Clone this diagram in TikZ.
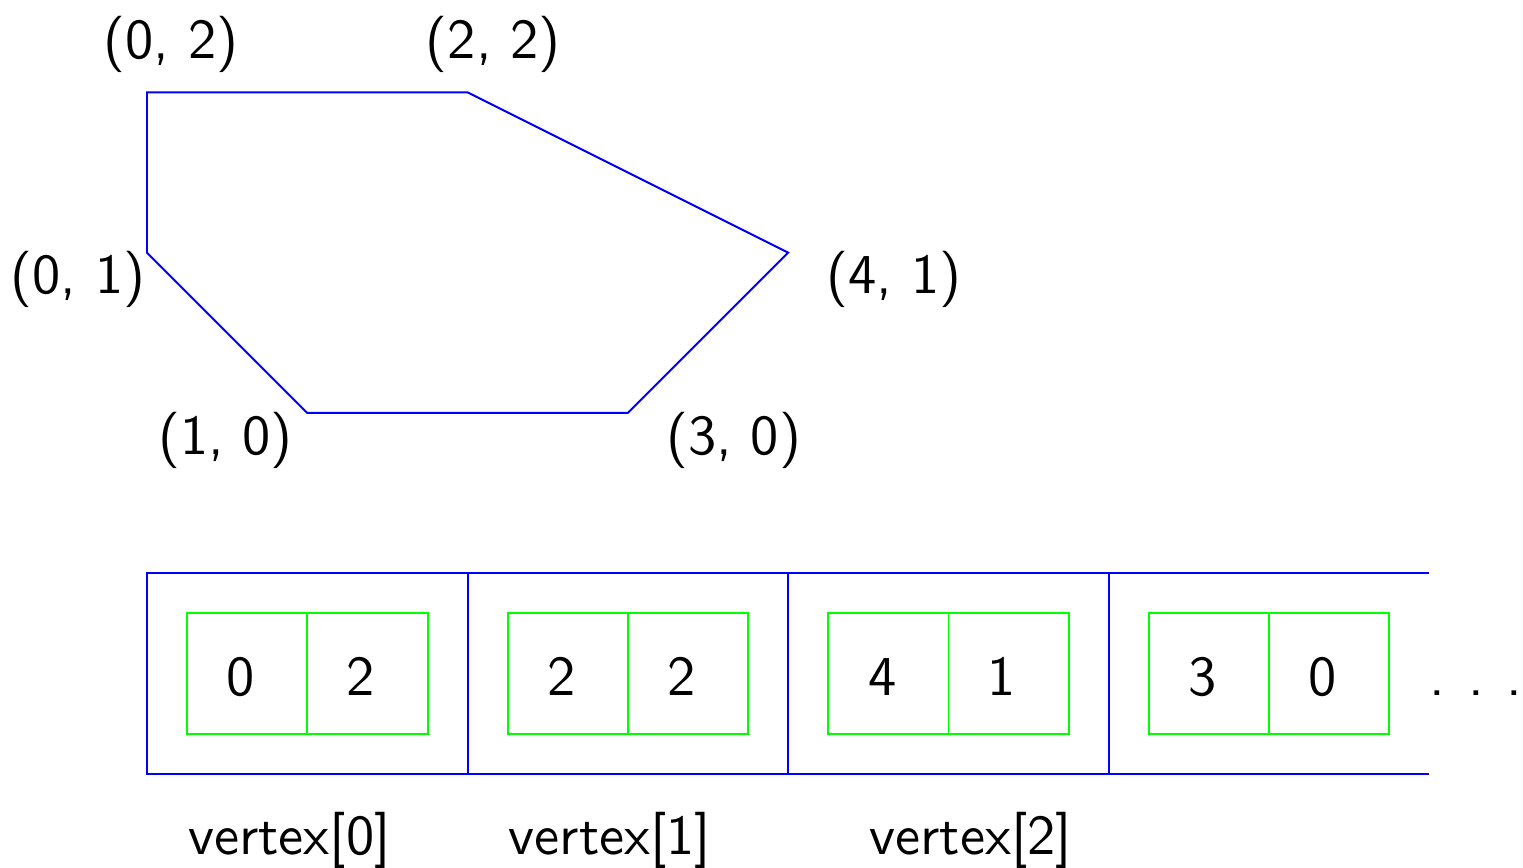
\documentclass[tikz,border=0pt]{standalone}
\begin{document}
\begin{tikzpicture}[font=\sffamily,
  lbl/.style={inner sep=0pt, anchor=base},
  poly/.style={draw=blue, line width=0.35pt},
  cellgreen/.style={draw=green, line width=0.35pt}]
\useasboundingbox (-0.917,-2.838) rectangle (8.584,2.576);
% polygon
\coordinate (A) at (0,2);
\coordinate (B) at (2,2);
\coordinate (C) at (4,1);
\coordinate (D) at (3,0);
\coordinate (E) at (1,0);
\coordinate (F) at (0,1);
\draw[poly] (A) -- (B) -- (C) -- (D) -- (E) -- (F) -- cycle;
\node[lbl] (lA) at (0.15,2.21) {(0, 2)};
\node[lbl] (lB) at (2.16,2.21) {(2, 2)};
\node[lbl] (lF) at (-0.43,0.745) {(0, 1)};
\node[lbl] (lC) at (4.66,0.745) {(4, 1)};
\node[lbl] (lE) at (0.49,-0.26) {(1, 0)};
\node[lbl] (lD) at (3.66,-0.26) {(3, 0)};
% array
\draw[poly] (8,-1) -- (0,-1) -- (0,-2.25) -- (8,-2.25);
\foreach \x in {2,4,6} \draw[poly] (\x,-1) -- (\x,-2.25);
\foreach \i/\a/\b in {0/0/2, 1/2/2, 2/4/1, 3/3/0} {
  \draw[cellgreen] (2*\i+0.25,-1.25) rectangle (2*\i+1.75,-2);
  \draw[cellgreen] (2*\i+1,-1.25) -- (2*\i+1,-2);
  \node[lbl] (a\i) at (2*\i+0.586,-1.765) {\a};
  \node[lbl] (b\i) at (2*\i+1.333,-1.765) {\b};
}
\node[lbl] (dots) at (8.29,-1.765) {.\hspace{4.1pt}.\hspace{4.1pt}.};
\node[lbl, anchor=base west] (v0) at (0.25,-2.757) {vertex[0]};
\node[lbl, anchor=base west] (v1) at (2.25,-2.757) {vertex[1]};
\node[lbl, anchor=base west] (v2) at (4.5,-2.757) {vertex[2]};
\end{tikzpicture}
\end{document}
